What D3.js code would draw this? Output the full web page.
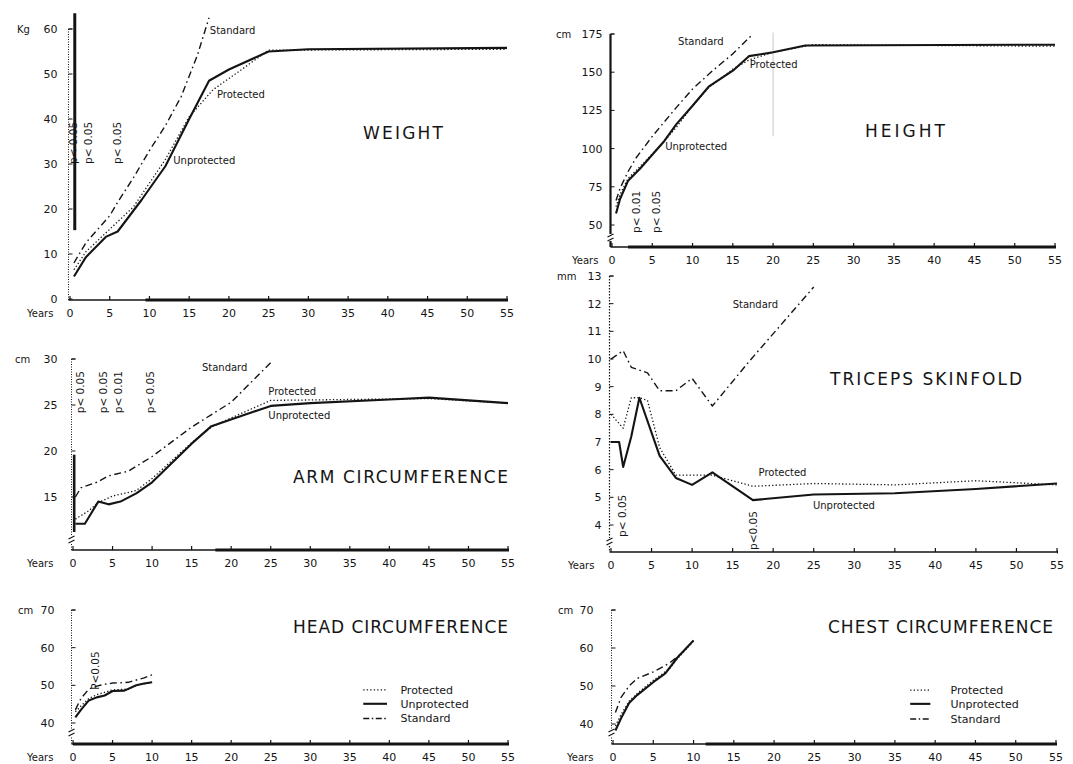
<!DOCTYPE html>
<html><head><meta charset="utf-8">
<script src="https://cdn.jsdelivr.net/npm/d3@7"></script>
<style>
body{margin:0;background:#fff;}
svg text{font-family:"DejaVu Sans",sans-serif;fill:#151515;}
</style></head><body>
<svg id="fig" width="1073" height="764"></svg>
<script>
// ---- shared axis values ----
const yearTicks = [0,5,10,15,20,25,30,35,40,45,50,55];

// ---- Weight (kg) ----
const weightTicks = [0,10,20,30,40,50,60];
const weightStandard = [[0.5,8],[2,12.5],[4,16.5],[5,18.5],[6,21.5],[8,27],[10,33],[12,38.5],[14,45],[16,54],[17.5,62.5]];
const weightUnprotected = [[0.5,5],[2,9.3],[4.5,13.8],[6,15],[9,22],[12,29.5],[15,40],[17.5,48.5],[20,51],[25,55],[30,55.5],[55,55.8]];
const weightProtected = [[0.5,6.5],[2,10.5],[5,15.5],[8,20.5],[12,31],[15,40.5],[18,46.5],[22,51.5],[25,55.3],[55,55.5]];

// ---- Height (cm) ----
const heightTicks = [50,75,100,125,150,175];
const heightStandard = [[0.5,66],[1,74],[2,85],[3,94],[5,108],[8,127],[10,139],[12.5,151],[15,162],[17.5,175]];
const heightUnprotected = [[0.5,57.5],[1,67],[2,79],[3.5,87],[5,96],[6.5,105],[8,116],[10,128],[12,140.5],[15,151],[17,160.5],[20,163],[24,167.5],[55,168]];
const heightProtected = [[0.5,62],[1,70],[2,80.5],[4,91],[6,102],[8,114],[10,128],[12,140],[15,152],[17,158],[20,163],[25,168],[55,167]];

// ---- Arm circumference (cm) ----
const armTicks = [15,20,25,30];
const armStandard = [[0.3,15],[1,16],[3,16.6],[4.5,17.3],[7,17.8],[10,19.4],[15,22.6],[20,25.3],[25,29.6]];
const armUnprotected = [[0.3,12.1],[1.5,12.1],[3.2,14.5],[4.5,14.2],[6,14.5],[8,15.4],[10,16.6],[15,20.8],[17.5,22.7],[25,24.9],[30,25.2],[40,25.6],[45,25.8],[50,25.5],[55,25.2]];
const armProtected = [[0.3,12.6],[2,13.5],[3.2,14.4],[5,15.1],[8,15.7],[10,17],[15,20.9],[17.5,22.6],[20,23.6],[25,25.5],[35,25.6],[45,25.7],[55,25.2]];

// ---- Triceps skinfold (mm) ----
const tricepsTicks = [4,5,6,7,8,9,10,11,12,13];
const tricepsStandard = [[0,10],[1.5,10.3],[2.5,9.7],[4.5,9.5],[6,8.85],[8,8.85],[10,9.3],[12.5,8.3],[17,9.9],[25,12.6]];
const tricepsUnprotected = [[0,7],[1,7],[1.5,6.1],[2.5,7.2],[3.5,8.6],[6,6.5],[8,5.7],[10,5.45],[12.5,5.9],[17.5,4.9],[25,5.1],[35,5.15],[45,5.3],[55,5.5]];
const tricepsProtected = [[0,8],[1.5,7.5],[2.5,8.6],[3.5,8.6],[4.5,8.5],[6,6.8],[8,5.8],[10,5.8],[12.5,5.8],[17.5,5.4],[25,5.5],[35,5.45],[45,5.6],[55,5.45]];

// ---- Head circumference (cm) ----
const headTicks = [40,50,60,70];
const headStandard = [[0.3,43.5],[1,46.5],[2,49],[3,49.8],[4,50.3],[5,50.6],[7,50.8],[9,52],[10,52.8]];
const headUnprotected = [[0.3,41.5],[1,43.5],[2,46],[3,46.8],[4,47.3],[5,48.5],[6.5,48.6],[8,50],[9,50.5],[10,50.8]];
const headProtected = [[0.3,43],[1,44.5],[2,46.5],[3,47.5],[5,48.8],[7,49],[8,50],[10,50.8]];

// ---- Chest circumference (cm) ----
const chestTicks = [40,50,60,70];
const chestStandard = [[0.3,43],[1,47],[2,50],[3,52],[5,53.7],[7,56],[8.5,58.6],[10,61.8]];
const chestUnprotected = [[0.3,38.3],[1,41.5],[2,45.5],[3,47.6],[5,51],[6.5,53.3],[8,57.5],[10,62]];
const chestProtected = [[0.3,39.5],[1,42.5],[2,46],[3,48],[5,51.5],[7,54.5],[8,57.2],[10,61.8]];

const ink = "#141414";
const svg = d3.select("#fig");

const styles = {
  protected:   {dash:"1.3,2.2", width:1.3},
  unprotected: {dash:null, width:2.1},
  standard:    {dash:"7,3.5,1.6,3.5", width:1.4}
};

function drawPanel(c){
  const g = svg.append("g");
  const x = d3.scaleLinear().domain([0,55]).range(c.xRange);
  const y = d3.scaleLinear().domain(c.yDomain).range(c.yRange);
  const ax = x(0) - 1.5;
  const top = y(d3.max(c.yTicks));

  // vertical axis
  g.append("line").attr("x1",ax).attr("x2",ax).attr("y1",top).attr("y2",c.axisY)
    .attr("stroke",ink).attr("stroke-width",c.yAxisWidth)
    .attr("stroke-dasharray",c.yAxisDash);
  // top hook
  g.append("line").attr("x1",ax).attr("x2",ax+4).attr("y1",top).attr("y2",top)
    .attr("stroke",ink).attr("stroke-width",1);
  // y ticks + labels
  c.yTicks.forEach(v=>{
    g.append("line").attr("x1",ax).attr("x2",ax+4).attr("y1",y(v)).attr("y2",y(v))
      .attr("stroke",ink).attr("stroke-width",1);
    g.append("text").attr("x",ax-c.labelGap).attr("y",y(v)+4)
      .attr("text-anchor","end").attr("font-size",11).text(v);
  });
  g.append("text").attr("x",c.unitX).attr("y",top+4).attr("font-size",10).text(c.unit);

  // axis break mark
  if(c.breakAt!=null){
    const by = c.axisY - c.breakAt;
    g.append("rect").attr("x",ax-4).attr("y",by-4).attr("width",8).attr("height",7).attr("fill","#fff");
    g.append("path").attr("d",`M${ax-3},${by-1} L${ax+3},${by-4} M${ax-3},${by+3} L${ax+3},${by}`)
      .attr("stroke",ink).attr("stroke-width",1.2).attr("fill","none");
  }

  // horizontal axis
  g.append("line").attr("x1",ax).attr("x2",x(55)+1).attr("y1",c.axisY).attr("y2",c.axisY)
    .attr("stroke",ink).attr("stroke-width",1.6);
  g.append("line").attr("x1",x(c.heavyFrom)).attr("x2",x(55)+1).attr("y1",c.axisY).attr("y2",c.axisY)
    .attr("stroke",ink).attr("stroke-width",3);
  yearTicks.forEach(t=>{
    g.append("line").attr("x1",x(t)).attr("x2",x(t)).attr("y1",c.axisY).attr("y2",c.axisY-4)
      .attr("stroke",ink).attr("stroke-width",1.2);
    g.append("text").attr("x",x(t)).attr("y",c.axisY+17).attr("text-anchor","middle")
      .attr("font-size",11).text(t);
  });
  g.append("text").attr("x",c.yearsX).attr("y",c.axisY+17).attr("font-size",10).text("Years");

  if(c.extra) c.extra(g,x,y);

  // series
  const line = d3.line().x(d=>x(d[0])).y(d=>y(d[1]));
  [["protected",c.protected],["unprotected",c.unprotected],["standard",c.standard]].forEach(([k,data])=>{
    g.append("path").attr("d",line(data)).attr("fill","none").attr("stroke",ink)
      .attr("stroke-width",styles[k].width).attr("stroke-dasharray",styles[k].dash)
      .attr("stroke-linejoin","round");
  });

  // series labels
  (c.labels||[]).forEach(l=>{
    g.append("text").attr("x",x(l[1])).attr("y",y(l[2])).attr("font-size",10).text(l[0]);
  });

  // significance notes (rotated)
  (c.notes||[]).forEach(n=>{
    g.append("text").attr("transform",`translate(${x(n[1])},${y(n[2])}) rotate(-90)`)
      .attr("dominant-baseline","central").attr("font-size",10.5).text(n[0]);
  });

  // title
  g.append("text").attr("x",c.title[1]).attr("y",c.title[2]).attr("font-size",17)
    .attr("textLength",c.title[3]).attr("lengthAdjust","spacing").text(c.title[0]);

  // legend
  if(c.legend){
    const L = c.legend;
    [["Protected","protected"],["Unprotected","unprotected"],["Standard","standard"]].forEach(([txt,k],i)=>{
      const yy = y(L.rows[i]);
      g.append("line").attr("x1",x(L.x0)).attr("x2",x(L.x1)).attr("y1",yy).attr("y2",yy)
        .attr("stroke",ink).attr("stroke-width",styles[k].width).attr("stroke-dasharray",
          k==="standard" ? "6,2.5,1.5,2.5" : styles[k].dash);
      g.append("text").attr("x",x(L.tx)).attr("y",yy+4).attr("font-size",11).text(txt);
    });
  }
}

// WEIGHT
drawPanel({
  xRange:[70,507], yDomain:[0,60], yRange:[299,29], axisY:300, yTicks:weightTicks,
  yAxisWidth:1, yAxisDash:"1,1.5", labelGap:11, unit:"Kg", unitX:17, yearsX:27,
  heavyFrom:9.5, breakAt:null,
  standard:weightStandard, unprotected:weightUnprotected, protected:weightProtected,
  labels:[["Standard",17.6,59],["Protected",18.5,44.7],["Unprotected",13,30]],
  notes:[["p< 0.05",0.4,30],["p< 0.05",2.3,30],["p< 0.05",5.9,30]],
  title:["WEIGHT",363,139,80],
  extra:(g,x,y)=>{
    g.append("line").attr("x1",x(0.6)).attr("x2",x(0.6)).attr("y1",y(63.5)).attr("y2",y(15.3))
      .attr("stroke",ink).attr("stroke-width",3);
  }
});

// HEIGHT
drawPanel({
  xRange:[612,1055], yDomain:[50,175], yRange:[225,34], axisY:247, yTicks:heightTicks,
  yAxisWidth:2.2, yAxisDash:null, labelGap:8, unit:"cm", unitX:556, yearsX:572,
  heavyFrom:2, breakAt:9,
  standard:heightStandard, unprotected:heightUnprotected, protected:heightProtected,
  labels:[["Standard",8.2,167.8],["Protected",17.1,152.7],["Unprotected",6.6,99]],
  notes:[["p< 0.01",3,44.8],["p< 0.05",5.5,44.8]],
  title:["HEIGHT",865,137,80],
  extra:(g,x,y)=>{
    g.append("line").attr("x1",x(20)).attr("x2",x(20)).attr("y1",y(176)).attr("y2",y(108))
      .attr("stroke","#c8c8c8").attr("stroke-width",1);
  }
});

// ARM CIRCUMFERENCE
drawPanel({
  xRange:[73,508], yDomain:[15,30], yRange:[497,359], axisY:550, yTicks:armTicks,
  yAxisWidth:1, yAxisDash:"1,1.5", labelGap:14, unit:"cm", unitX:15, yearsX:27,
  heavyFrom:18, breakAt:10,
  standard:armStandard, unprotected:armUnprotected, protected:armProtected,
  labels:[["Standard",16.3,28.7],["Protected",24.7,26.1],["Unprotected",24.7,23.5]],
  notes:[["p< 0.05",0.9,24.1],["p< 0.05",3.8,24.1],["p< 0.01",5.7,24.1],["p< 0.05",9.7,24.1]],
  title:["ARM  CIRCUMFERENCE",293,483,215],
  extra:(g,x,y)=>{
    g.append("line").attr("x1",x(0.15)).attr("x2",x(0.15)).attr("y1",y(19.6)).attr("y2",y(11.2))
      .attr("stroke",ink).attr("stroke-width",2.6);
  }
});

// TRICEPS SKINFOLD
drawPanel({
  xRange:[611,1057], yDomain:[4,13], yRange:[525,276], axisY:552, yTicks:tricepsTicks,
  yAxisWidth:1.2, yAxisDash:"1.5,1.5", labelGap:8, unit:"mm", unitX:557, yearsX:568,
  heavyFrom:55, breakAt:10,
  standard:tricepsStandard, unprotected:tricepsUnprotected, protected:tricepsProtected,
  labels:[["Standard",15,11.84],["Protected",18.2,5.77],["Unprotected",24.9,4.58]],
  notes:[["p< 0.05",1.4,3.57],["p<0.05",17.5,3.1]],
  title:["TRICEPS   SKINFOLD",830,385,192]
});

// HEAD CIRCUMFERENCE
drawPanel({
  xRange:[73,508], yDomain:[40,70], yRange:[723,610], axisY:744, yTicks:headTicks,
  yAxisWidth:1, yAxisDash:"1,1.5", labelGap:17, unit:"cm", unitX:18, yearsX:27,
  heavyFrom:0, breakAt:11,
  standard:headStandard, unprotected:headUnprotected, protected:headProtected,
  notes:[["P<0.05",2.8,48.8]],
  title:["HEAD  CIRCUMFERENCE",293,633,215],
  legend:{x0:36.7, x1:39.7, tx:41.4, rows:[48.8,45.1,41.2]}
});

// CHEST CIRCUMFERENCE
drawPanel({
  xRange:[613,1056], yDomain:[40,70], yRange:[724,610], axisY:744, yTicks:chestTicks,
  yAxisWidth:1, yAxisDash:"1,1.5", labelGap:18, unit:"cm", unitX:558, yearsX:567,
  heavyFrom:11.5, breakAt:11,
  standard:chestStandard, unprotected:chestUnprotected, protected:chestProtected,
  title:["CHEST  CIRCUMFERENCE",828,633,225],
  legend:{x0:36.9, x1:39.4, tx:41.9, rows:[48.9,45.3,41.3]}
});
</script>
</body></html>
